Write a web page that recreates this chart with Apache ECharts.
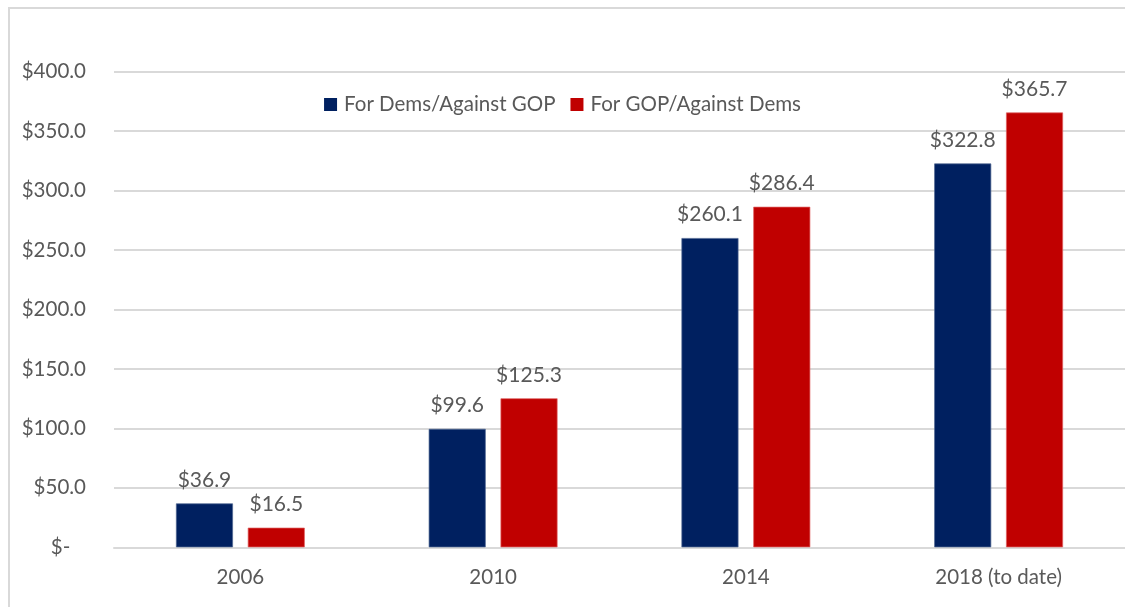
<!DOCTYPE html>
<html><head><meta charset="utf-8">
<script src="https://cdn.jsdelivr.net/npm/echarts@6/dist/echarts.min.js"></script>
<style>html,body{margin:0;padding:0;background:#fff;}#c{width:1125px;height:607px;}</style>
</head><body><div id="c"></div>
<script>
const categories = ['2006', '2010', '2014', '2018 (to date)'];
const demsValues = [36.9, 99.6, 260.1, 322.8];
const gopValues = [16.5, 125.3, 286.4, 365.7];
const seriesNames = ['For Dems/Against GOP', 'For GOP/Against Dems'];
const FONT = 'Lato';
const TXT = '#595959';
const chart = echarts.init(document.getElementById('c'));
chart.setOption({
  animation: false,
  textStyle: { fontFamily: FONT },
  graphic: [{ type: 'rect', shape: { x: 9, y: 8, width: 1200, height: 700 }, style: { fill: 'none', stroke: '#d9d9d9', lineWidth: 2 }, silent: true }],
  legend: {
    data: seriesNames, top: 89, left: 'center', itemWidth: 13, itemHeight: 13, itemGap: 15,
    icon: 'rect', itemStyle: { borderWidth: 0 },
    textStyle: { color: TXT, fontSize: 20.5, fontFamily: FONT, padding: [0, 0, 0, 2] }
  },
  grid: { left: 114, top: 71.7, width: 1016, bottom: 59.7, containLabel: false },
  xAxis: {
    type: 'category', data: categories,
    axisLine: { lineStyle: { color: '#d9d9d9', width: 2 } }, axisTick: { show: false },
    axisLabel: { color: TXT, fontSize: 20.5, margin: 20, fontFamily: FONT }
  },
  yAxis: {
    type: 'value', min: 0, max: 400, interval: 50,
    axisLine: { show: false }, axisTick: { show: false },
    splitLine: { lineStyle: { color: '#d9d9d9', width: 2 } },
    axisLabel: { color: TXT, fontSize: 20.5, margin: 28, fontFamily: FONT,
      formatter: v => v === 0 ? '$-   ' : '$' + v.toFixed(1) }
  },
  series: [
    { name: seriesNames[0], type: 'bar', data: demsValues, barWidth: 57, barGap: '26%',
      itemStyle: { color: '#002060', borderColor: '#4d6690', borderWidth: 0.7 },
      label: { show: true, position: 'top', distance: 13, color: TXT, fontSize: 21, fontFamily: FONT, formatter: p => '$' + p.value.toFixed(1) } },
    { name: seriesNames[1], type: 'bar', data: gopValues, barWidth: 57,
      itemStyle: { color: '#c00000', borderColor: '#e06060', borderWidth: 0.7 },
      label: { show: true, position: 'top', distance: 13, color: TXT, fontSize: 21, fontFamily: FONT, formatter: p => '$' + p.value.toFixed(1) } }
  ]
});
</script></body></html>
